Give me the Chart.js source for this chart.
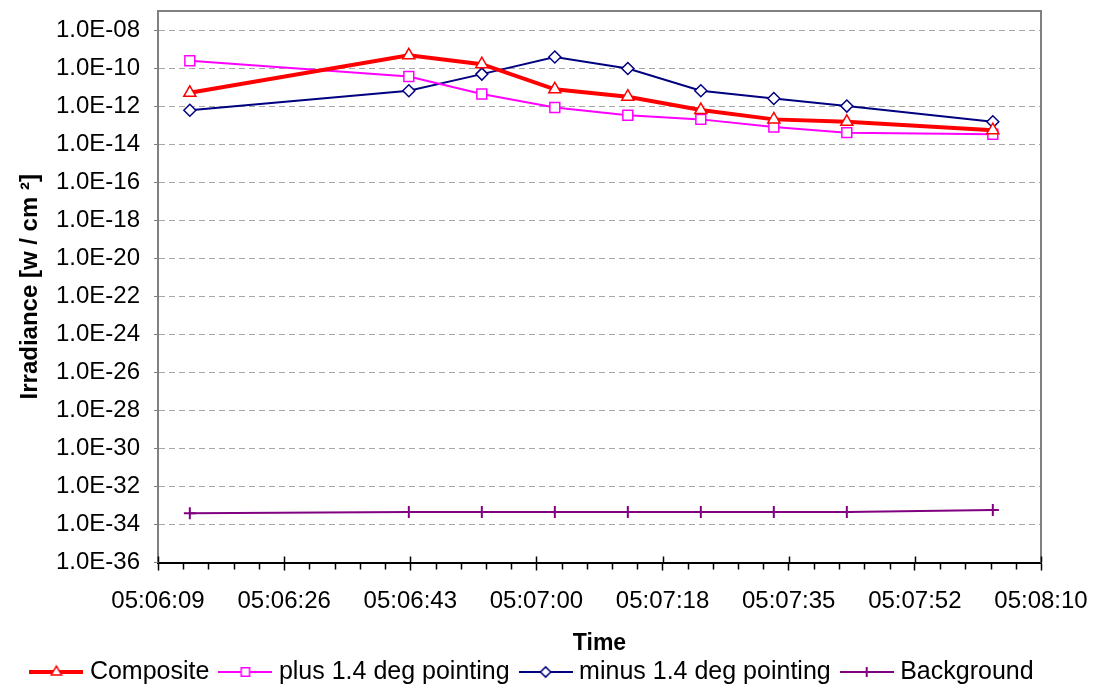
<!DOCTYPE html>
<html><head><meta charset="utf-8">
<script src="https://cdn.jsdelivr.net/npm/chart.js@4.4.1/dist/chart.umd.min.js"></script>
<style>html,body{margin:0;padding:0;background:#fff;}canvas{display:block;}</style>
</head><body>
<canvas id="c" width="1094" height="688"></canvas>
<script>
// ---- data ----
const times = ['05:06:13','05:06:43','05:06:53','05:07:03','05:07:13','05:07:23','05:07:33','05:07:43','05:08:03'];
const composite     = [5.0e-12, 4.7e-10, 1.6e-10, 7.6e-12, 3.1e-12, 6.2e-13, 2.0e-13, 1.5e-13, 5.4e-14];
const plusPointing  = [2.4e-10, 3.6e-11, 4.3e-12, 8.5e-13, 3.3e-13, 2.0e-13, 8.0e-14, 4.0e-14, 3.3e-14];
const minusPointing = [6.0e-13, 6.4e-12, 4.8e-11, 3.8e-10, 9.5e-11, 6.4e-12, 2.5e-12, 1.0e-12, 1.5e-13];
const background    = [3.9e-34, 4.5e-34, 4.5e-34, 4.5e-34, 4.5e-34, 4.5e-34, 4.5e-34, 4.5e-34, 5.8e-34];
const seriesNames = ['Composite','plus 1.4 deg pointing','minus 1.4 deg pointing','Background'];
const xTickLabels = ['05:06:09','05:06:26','05:06:43','05:07:00','05:07:18','05:07:35','05:07:52','05:08:10'];
const yTickLabels = ['1.0E-36','1.0E-34','1.0E-32','1.0E-30','1.0E-28','1.0E-26','1.0E-24','1.0E-22',
                     '1.0E-20','1.0E-18','1.0E-16','1.0E-14','1.0E-12','1.0E-10','1.0E-08'];

// ---- axis settings (Excel: min 0.2126 d, major unit 0.0002 d) ----
const X_MIN = 0.2126 * 86400;
const X_STEP = 0.0002 * 86400;
const X_MAX = X_MIN + (xTickLabels.length - 1) * X_STEP;

function toSec(s){ const p = s.split(':').map(Number); return p[0]*3600 + p[1]*60 + p[2]; }
function pts(arr){ return times.map((t,i)=>({x: toSec(t), y: arr[i]})); }

const FONT = "'Liberation Sans', Arial, sans-serif";
Chart.defaults.font.family = FONT;
Chart.defaults.color = '#000';

const styles = [
  {color:'#FF0000', lw:4, ps:'triangle', r:7, pbw:1.5},
  {color:'#FF00FF', lw:2, ps:'rect', r:7, pbw:1.5},
  {color:'#000080', lw:2, ps:'rectRot', r:6, pbw:1.5},
  {color:'#800080', lw:2, ps:'cross', r:6, pbw:2}
];
const seriesData = [composite, plusPointing, minusPointing, background];

function legendImg(s){
  const c = document.createElement('canvas'); c.width = 54; c.height = 18;
  const g = c.getContext('2d');
  g.strokeStyle = s.color; g.lineWidth = s.lw;
  g.beginPath(); g.moveTo(0,9); g.lineTo(54,9); g.stroke();
  g.fillStyle = '#fff'; g.strokeStyle = s.color; g.lineWidth = s.pbw;
  Chart.helpers.drawPoint(g, {pointStyle: s.ps, radius: s.r*0.85, rotation: 0, borderWidth: s.pbw}, 27, 9);
  return c;
}
const legendImgs = styles.map(legendImg);

const decor = {
  id: 'decor',
  beforeDatasetsDraw(chart){
    const {ctx, chartArea: a, scales: {x}} = chart;
    ctx.save();
    ctx.strokeStyle = '#808080'; ctx.lineWidth = 2;
    ctx.beginPath(); ctx.moveTo(a.left, a.top); ctx.lineTo(a.right, a.top); ctx.lineTo(a.right, a.bottom); ctx.stroke();
    ctx.strokeStyle = '#000'; ctx.lineWidth = 1.5;
    ctx.beginPath();
    const nMinor = (xTickLabels.length - 1) * 5;
    for (let i = 0; i <= nMinor; i++) {
      const px = Math.round(x.getPixelForValue(X_MIN + i * X_STEP / 5)) + 0.5;
      if (i % 5 === 0) { ctx.moveTo(px, a.bottom - 6); ctx.lineTo(px, a.bottom); }
      else { ctx.moveTo(px, a.bottom); ctx.lineTo(px, a.bottom + 7); }
    }
    ctx.stroke();
    ctx.restore();
  }
};

new Chart(document.getElementById('c'), {
  type: 'line',
  data: {
    datasets: seriesNames.map((n,i)=>({
      label: n,
      data: pts(seriesData[i]),
      borderColor: styles[i].color,
      borderWidth: styles[i].lw,
      pointStyle: styles[i].ps,
      pointRadius: styles[i].r,
      pointBorderWidth: styles[i].pbw,
      pointBorderColor: styles[i].color,
      pointBackgroundColor: '#fff',
      tension: 0,
      fill: false,
      yAxisID: 'y'
    }))
  },
  options: {
    responsive: false,
    animation: false,
    devicePixelRatio: 1,
    layout: {padding: {left: 0, right: 25, top: 11, bottom: -6.5}},
    plugins: {
      tooltip: {enabled: false},
      legend: {
        position: 'bottom',
        labels: {
          usePointStyle: true,
          pointStyleWidth: 42,
          padding: 15,
          font: {size: 25},
          color: '#000',
          generateLabels: () => seriesNames.map((n,i)=>({
            text: n, pointStyle: legendImgs[i], fillStyle: 'rgba(0,0,0,0)',
            strokeStyle: 'rgba(0,0,0,0)', lineWidth: 0, hidden: false, datasetIndex: i, fontColor: '#000'
          }))
        }
      }
    },
    scales: {
      x: {
        type: 'linear',
        min: X_MIN, max: X_MAX,
        afterBuildTicks: s => { s.ticks = xTickLabels.map((l,i)=>({value: X_MIN + i*X_STEP})); },
        afterFit: s => { s.height = 82; s.paddingLeft = 0; s.paddingRight = 0; },
        ticks: {
          autoSkip: false, maxRotation: 0, padding: 16,
          font: {size: 24}, color: '#000',
          callback: (v, i) => xTickLabels[i]
        },
        grid: {drawOnChartArea: false, drawTicks: true, tickLength: 8, tickColor: '#000', tickWidth: 1.5},
        border: {color: '#000', width: 2},
        title: {display: true, text: 'Time', font: {size: 23, weight: 'bold', lineHeight: 1}, padding: {top: 0, bottom: -11}, color: '#000'}
      },
      y: {
        type: 'logarithmic',
        position: 'left',
        min: 1e-36, max: 1e-7,
        afterBuildTicks: s => { s.ticks = yTickLabels.map(l=>({value: parseFloat(l)})); },
        afterFit: s => { s.width = 158; s.paddingTop = 0; s.paddingBottom = 0; },
        ticks: {
          autoSkip: false, padding: 14,
          font: {size: 24}, color: '#000',
          callback: (v, i) => yTickLabels[i]
        },
        grid: {
          color: c => c.index === 0 ? 'rgba(0,0,0,0)' : '#a6a6a6',
          lineWidth: 1,
          tickBorderDash: [],
          drawTicks: true, tickLength: 4, tickColor: '#808080', tickWidth: 1
        },
        border: {color: '#808080', width: 2, dash: [6, 4]},
        title: {display: true, text: 'Irradiance [w / cm ²]', font: {size: 24, weight: 'bold', lineHeight: 1}, padding: {top: 18, bottom: 0}, color: '#000'}
      },
      yRight: {
        type: 'linear',
        position: 'right',
        display: true,
        min: 0, max: 1,
        afterFit: s => { s.width = 28; s.paddingTop = 0; s.paddingBottom = 0; },
        ticks: {display: false},
        grid: {display: false, drawTicks: false},
        border: {display: false}
      }
    }
  },
  plugins: [decor]
});
</script>
</body></html>
